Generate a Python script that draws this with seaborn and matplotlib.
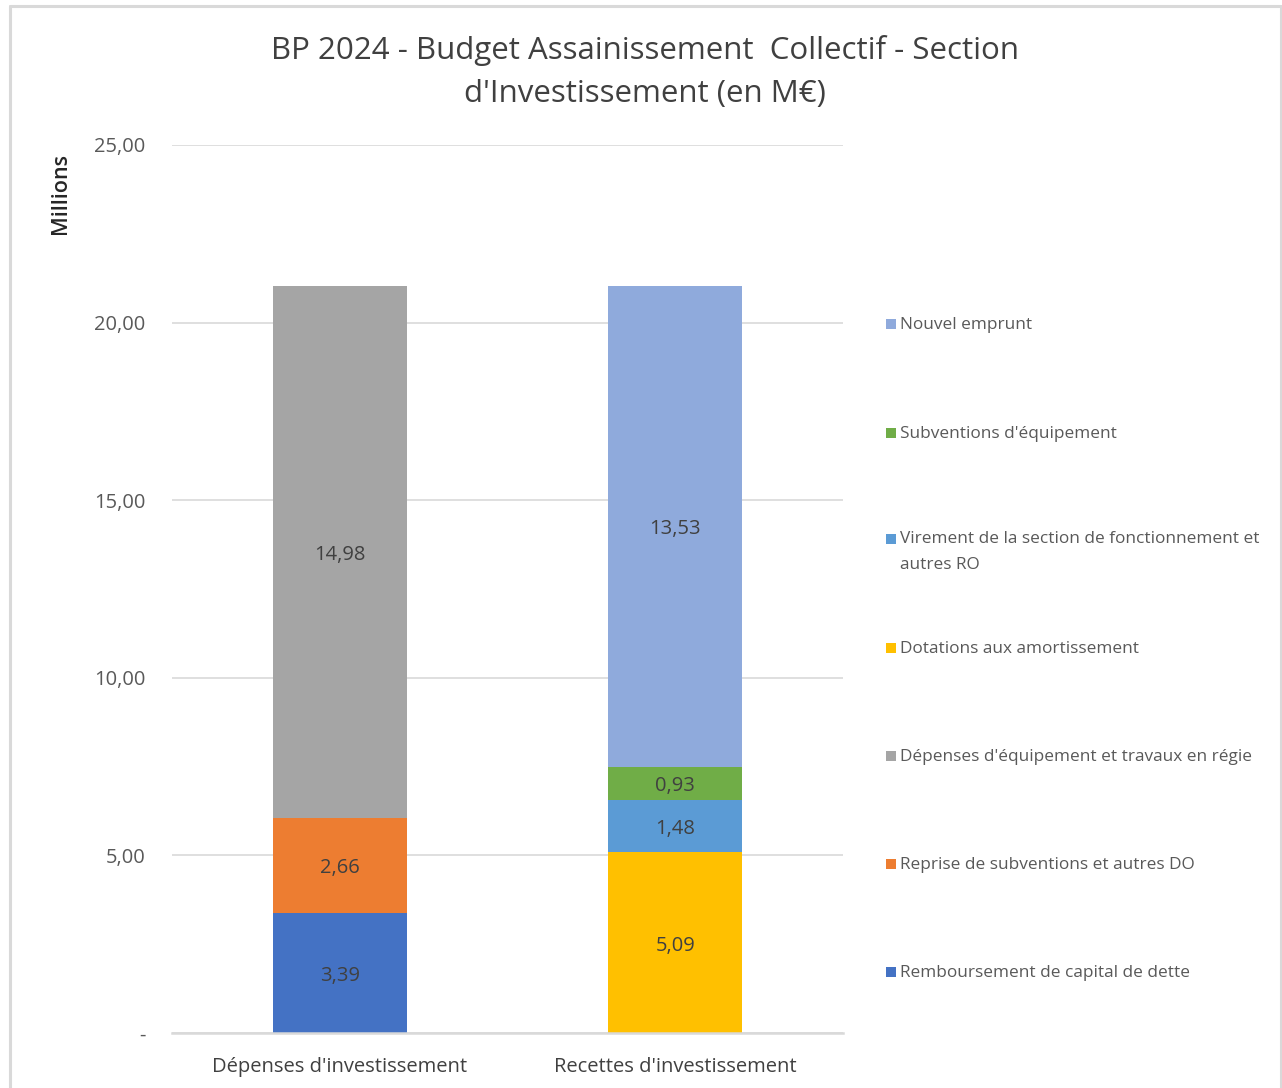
import matplotlib
matplotlib.use("Agg")
import matplotlib.pyplot as plt
from matplotlib.patches import Rectangle
from matplotlib.lines import Line2D
from matplotlib.transforms import offset_copy
import seaborn as sns
import pandas as pd

# Categories (x axis)
categories = ["Dépenses d'investissement", "Recettes d'investissement"]

# Series in stacking order (bottom to top), with the category each belongs to
series_names = [
    "Remboursement de capital de dette",
    "Reprise de subventions et autres DO",
    "Dépenses d'équipement et travaux en régie",
    "Dotations aux amortissement",
    "Virement de la section de fonctionnement et\nautres RO",
    "Subventions d'équipement",
    "Nouvel emprunt",
]
series_category = [0, 0, 0, 1, 1, 1, 1]
series_values = [3.39, 2.66, 14.98, 5.09, 1.48, 0.93, 13.53]
series_colors = ["#4472C4", "#ED7D31", "#A5A5A5", "#FFC000", "#5B9BD5", "#70AD47", "#8FAADC"]

y_ticks = [0, 5, 10, 15, 20, 25]
y_tick_labels = ["-", "5,00", "10,00", "15,00", "20,00", "25,00"]

title = "BP 2024 - Budget Assainissement  Collectif - Section\nd'Investissement (en M€)"

sns.set_theme(style="white")
plt.rcParams["font.family"] = ["Open Sans", "DejaVu Sans"]

W, H = 1282, 1088
fig = plt.figure(figsize=(W / 100, H / 100), dpi=100)
ax = fig.add_axes([172 / W, 1 - 1033 / H, (843 - 172) / W, (1033 - 145) / H])

text_gray = "#595959"
grid_gray = "#D9D9D9"

# Data labels sit slightly below the segment centre
label_tf = offset_copy(ax.transData, fig=fig, x=0, y=-3, units="dots")

# Stacked bars: each segment sits on the running total of its category
running = [0.0, 0.0]
for name, cat, val, col in zip(series_names, series_category, series_values, series_colors):
    df = pd.DataFrame({"cat": [categories[cat]], "val": [val]})
    base = running[cat]
    sns.barplot(data=df, x="cat", y="val", order=categories, color=col,
                width=0.4, bottom=base, linewidth=0, saturation=1, ax=ax, zorder=3)
    ax.text(cat, base + val / 2, f"{val:.2f}".replace(".", ","),
            ha="center", va="center", fontsize=14.5, color="#404040", zorder=4,
            transform=label_tf)
    running[cat] = base + val

ax.set_xlim(-0.5, 1.5)
ax.set_ylim(0, 25)
ax.set_yticks(y_ticks)
ax.set_yticklabels(y_tick_labels)
ax.set_xlabel("")
ax.set_ylabel("")
ax.tick_params(axis="y", length=0, pad=19, labelsize=14.5, labelcolor=text_gray)
ax.tick_params(axis="x", length=0, pad=17, labelsize=14.5, labelcolor="#404040")

ax.yaxis.grid(True, color=grid_gray, linewidth=1.2, zorder=0)
ax.set_axisbelow(True)
for side in ["left", "right", "top"]:
    ax.spines[side].set_visible(False)
ax.spines["bottom"].set_color(grid_gray)
ax.spines["bottom"].set_linewidth(1.8)
ax.spines["bottom"].set_zorder(5)

# Title and axis caption
fig.text(645 / W, 1 - 72 / H, title, ha="center", va="center",
         fontsize=22.5, color="#404040", linespacing=1.55)
fig.text(60 / W, 1 - 194 / H, "Millions", rotation=90, ha="center", va="center",
         fontsize=15.5, color="#262626", fontweight="semibold")

# Legend, listed top to bottom in reverse stacking order
legend_y = [324, 433, 539, 648, 756, 864, 972]
for (name, col), y in zip(list(zip(series_names, series_colors))[::-1], legend_y):
    fig.patches.append(Rectangle((886 / W, 1 - (y + 5) / H), 10 / W, 10 / H,
                                 transform=fig.transFigure, facecolor=col,
                                 edgecolor="none"))
    if "\n" in name:
        fig.text(900 / W, 1 - (y - 8) / H, name, ha="left", va="top",
                 fontsize=12.4, color=text_gray, linespacing=1.8)
    else:
        fig.text(900 / W, 1 - (y + 1) / H, name, ha="left", va="center",
                 fontsize=12.4, color=text_gray)

# Chart frame
for xs, ys in [([9.5, 9.5], [H + 2, 6]), ([9.5, 1280.5], [6, 6]), ([1280.5, 1280.5], [6, H + 2])]:
    fig.lines.append(Line2D([x / W for x in xs], [1 - y / H for y in ys],
                            transform=fig.transFigure, color=grid_gray, linewidth=2.2))

fig.savefig("out.png", dpi=100, facecolor="white")
